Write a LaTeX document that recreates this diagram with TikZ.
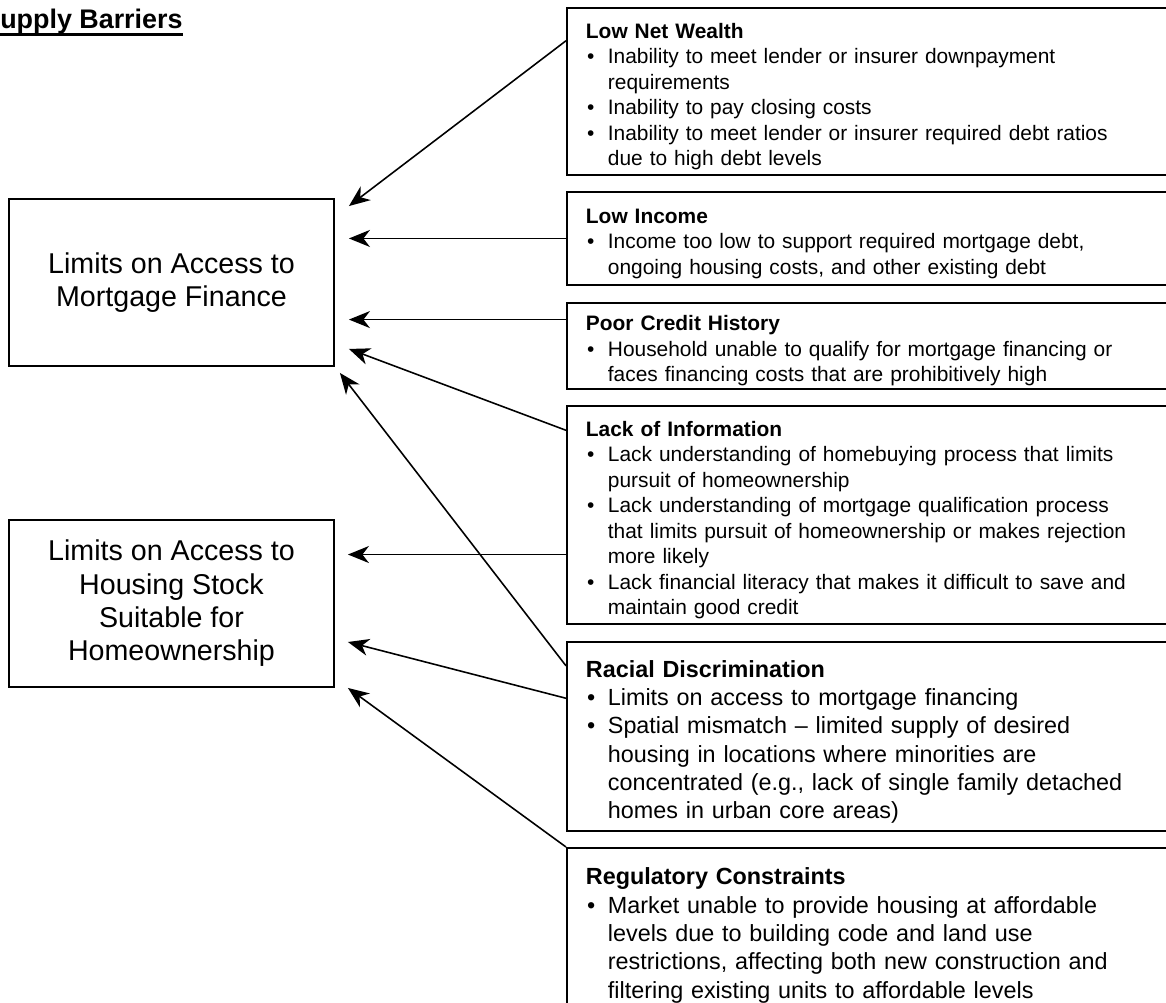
\documentclass[tikz,border=0pt]{standalone}
\usepackage{fontspec}
\setmainfont{Liberation Sans}
\usetikzlibrary{arrows.meta,positioning,calc}

\newsavebox{\ulbox}
\newcommand{\titleline}[1]{\sbox{\ulbox}{#1}\rlap{\rule[-4pt]{\wd\ulbox}{1.6pt}}\usebox{\ulbox}}
\newlength{\bulind}\setlength{\bulind}{12.5pt}
\newlength{\buloff}\setlength{\buloff}{0.6pt}
\newcommand{\bhead}[1]{\noindent\rule{0pt}{1.2em}\textbf{#1}}
\newcommand{\bpt}[1]{\par\noindent\hangindent=\bulind\hangafter=1\makebox[\bulind][l]{\hspace{\buloff}\textbullet}#1\par}

\begin{document}
\begin{tikzpicture}[x=0.02cm, y=-0.02cm,
    goal/.style={draw, line width=1.1pt, minimum width=6.5cm, minimum height=3.34cm, align=center, inner sep=0pt, font=\fontsize{16.3pt}{19pt}\selectfont},
    barrier/.style={draw, line width=1.1pt, anchor=north west, text width=12cm, inner xsep=0.38cm, inner ysep=0pt, font=\fontsize{11.9pt}{14.5pt}\selectfont},
    bigbarrier/.style={barrier, font=\fontsize{13.3pt}{16.1pt}\selectfont},
    feeds/.style={-{Stealth[length=0.42cm, width=0.34cm, inset=0.13cm]}, line width=0.9pt}]
    \useasboundingbox (0,0) rectangle (1166,1003);
    \clip (0,0) rectangle (1166,1003);

    % Title
    \node[anchor=base west, inner sep=0pt, font=\fontsize{15.3pt}{18pt}\selectfont\bfseries] (title) at (-18,29) {\titleline{Supply Barriers}};

    % Outcome boxes
    \node[goal] (mort) at (171.5,282.5) {Limits on Access to\\Mortgage Finance};
    \node[goal] (hous) at (171.5,603.5) {Limits on Access to\\Housing Stock\\Suitable for\\Homeownership};

    % Barrier boxes
    \node[barrier, minimum height=3.34cm] (lnw) at (566,7) {\bhead{Low Net Wealth}
        \bpt{Inability to meet lender or insurer downpayment\newline requirements}
        \bpt{Inability to pay closing costs}
        \bpt{Inability to meet lender or insurer required debt ratios\newline due to high debt levels}};
    \node[barrier, minimum height=1.86cm] (li) at (566,191) {\bhead{Low Income}
        \bpt{Income too low to support required mortgage debt,\newline ongoing housing costs, and other existing debt}};
    \node[barrier, minimum height=1.72cm] (pc) at (566,302) {\bhead{Poor Credit History}
        \bpt{Household unable to qualify for mortgage financing or\newline faces financing costs that are prohibitively high}};
    \node[barrier, minimum height=4.36cm] (loi) at (566,405) {\bhead{Lack of Information}
        \bpt{Lack understanding of homebuying process that limits\newline pursuit of homeownership}
        \bpt{Lack understanding of mortgage qualification process\newline that limits pursuit of homeownership or makes rejection\newline more likely}
        \bpt{Lack financial literacy that makes it difficult to save and\newline maintain good credit}};
    \node[bigbarrier, minimum height=3.78cm] (rd) at (566,641) {\bhead{Racial Discrimination}
        \bpt{Limits on access to mortgage financing}
        \bpt{Spatial mismatch -- limited supply of desired\newline housing in locations where minorities are\newline concentrated (e.g., lack of single family detached\newline homes in urban core areas)}};
    \node[bigbarrier, minimum height=3.28cm] (rc) at (566,847) {\bhead{Regulatory Constraints}
        \bpt{Market unable to provide housing at affordable\newline levels due to building code and land use\newline restrictions, affecting both new construction and\newline filtering existing units to affordable levels}};

    % Arrow ends
    \coordinate (m1) at ($(mort.north east)+(14,8)$);
    \coordinate (m4) at ($(mort.south east)+(14,-18)$);
    \coordinate (m6) at ($(mort.south east)+(5,6)$);
    \coordinate (h1) at ($(hous.east)+(13,0)$);
    \coordinate (h2) at ($(hous.east)+(13,38.5)$);
    \coordinate (h3) at ($(hous.south east)+(13,0)$);

    % Arrow starts
    \coordinate (s1) at ($(lnw.north west)!0.2!(lnw.south west)$);
    \coordinate (s3) at ($(pc.north west)!0.2!(pc.south west)$);
    \coordinate (s4) at ($(loi.north west)!0.115!(loi.south west)$);
    \coordinate (s5) at ($(loi.north west)!0.68!(loi.south west)$);
    \coordinate (s6) at ($(rd.north west)!0.13!(rd.south west)$);
    \coordinate (s7) at ($(rd.north west)!0.3!(rd.south west)$);

    % Connectors
    \draw[feeds] (s1) -- (m1);
    \draw[feeds] (li.west) -- (li.west -| m1);
    \draw[feeds] (s3) -- (s3 -| m1);
    \draw[feeds] (s4) -- (m4);
    \draw[feeds] (s5) -- (s5 -| h1);
    \draw[feeds] (s6) -- (m6);
    \draw[feeds] (s7) -- (h2);
    \draw[feeds] (rc.north west) -- (h3);
\end{tikzpicture}
\end{document}
